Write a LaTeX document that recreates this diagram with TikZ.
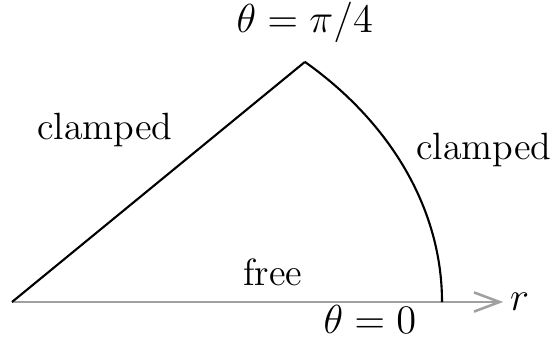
\documentclass[tikz,border=0pt]{standalone}
\usepackage{tikz}
\usetikzlibrary{arrows.meta,positioning,calc}
\definecolor{axisgray}{RGB}{160,160,160}

\begin{document}
\begin{tikzpicture}[
        edge/.style={line width=0.75pt, black},
        axis/.style={line width=0.9pt, axisgray, -{Straight Barb[length=3.2mm,width=2.4mm]}},
        lbl/.style={font=\fontsize{13.5}{16}\selectfont, inner sep=0pt}
    ]
        \useasboundingbox (-0.15,-0.4875) rectangle (6.725,3.775);

        \coordinate (orig) at (0,0);
        \coordinate (rim) at (5.375,0);
        \coordinate (apex) at (3.66,3.0);
        \coordinate (tip) at (6.14,0);

        \draw[axis] (orig) -- (tip);
        \draw[edge] (orig) -- (apex);
        \draw[edge] (rim) arc[start angle=0, end angle=47.1, x radius=5.375, y radius=4.10];

        \node[lbl, anchor=west] (rlabel) at (6.22,0) {$r$};
        \node[lbl] (thzero) at (4.475,-0.22) {$\theta = 0$};
        \node[lbl] (free) at (3.26,0.37) {free};
        \node[lbl] (clampl) at (1.16,2.15) {clamped};
        \node[lbl] (clampr) at (5.9,1.9) {clamped};
        \node[lbl] (thquart) at (3.66,3.5) {$\theta = \pi/4$};
    \end{tikzpicture}
\end{document}
